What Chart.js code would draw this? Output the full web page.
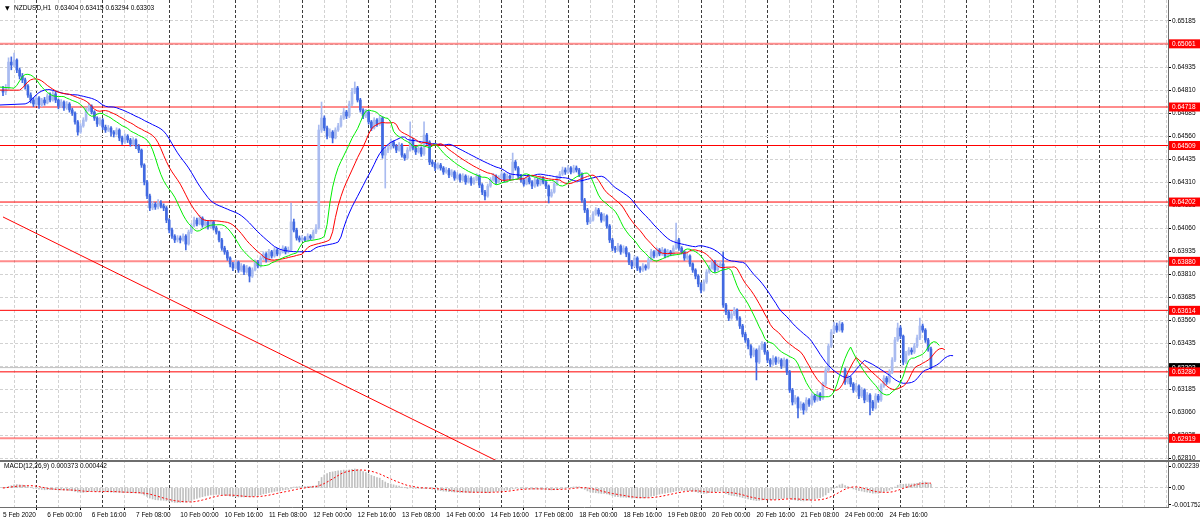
<!DOCTYPE html>
<html>
<head>
<meta charset="utf-8">
<script src="https://cdn.jsdelivr.net/npm/chart.js@4.4.0/dist/chart.umd.min.js"></script>
<style>
  html, body { margin: 0; padding: 0; background: #fff; overflow: hidden; }
  canvas { display: block; }
</style>
</head>
<body>
<canvas id="chart" width="1200" height="524"></canvas>
<script>
// header texts
const symbolTitle = 'NZDUSD,H1  0.63404 0.63415 0.63294 0.63303'
const macdTitle = 'MACD(12,26,9) 0.000373 0.000442'

// time axis labels, one every 16 hourly bars
const timeLabels = ['5 Feb 2020', '6 Feb 00:00', '6 Feb 16:00', '7 Feb 08:00', '10 Feb 00:00', '10 Feb 16:00',
  '11 Feb 08:00', '12 Feb 00:00', '12 Feb 16:00', '13 Feb 08:00', '14 Feb 00:00', '14 Feb 16:00',
  '17 Feb 08:00', '18 Feb 00:00', '18 Feb 16:00', '19 Feb 08:00', '20 Feb 00:00', '20 Feb 16:00',
  '21 Feb 08:00', '24 Feb 00:00', '24 Feb 16:00']

// H1 candles
const opens = [
0.64810,0.64799,0.64821,0.64962,0.64946,0.64973,0.64919,0.64886,0.64865,0.64832,0.64783,0.64756,
0.64734,0.64767,0.64729,0.64756,0.64740,0.64778,0.64756,0.64789,0.64756,0.64723,0.64745,0.64713,
0.64734,0.64702,0.64685,0.64637,0.64582,0.64615,0.64647,0.64702,0.64723,0.64691,0.64658,0.64626,
0.64647,0.64609,0.64593,0.64604,0.64582,0.64571,0.64593,0.64550,0.64528,0.64560,0.64539,0.64517,
0.64539,0.64506,0.64484,0.64403,0.64311,0.64235,0.64170,0.64191,0.64175,0.64197,0.64180,0.64170,
0.64104,0.64050,0.64017,0.63996,0.64007,0.63996,0.64017,0.63974,0.64039,0.64072,0.64104,0.64083,
0.64115,0.64077,0.64094,0.64066,0.64094,0.64061,0.64039,0.63996,0.63952,0.63931,0.63898,0.63866,
0.63844,0.63876,0.63833,0.63855,0.63822,0.63844,0.63800,0.63833,0.63876,0.63855,0.63898,0.63920,
0.63887,0.63931,0.63909,0.63942,0.63920,0.63931,0.63952,0.63931,0.63942,0.64094,0.64050,0.64007,
0.63996,0.64007,0.63996,0.64017,0.64007,0.64039,0.64061,0.64593,0.64658,0.64604,0.64560,0.64582,
0.64550,0.64593,0.64615,0.64658,0.64691,0.64669,0.64734,0.64799,0.64821,0.64756,0.64702,0.64669,
0.64691,0.64637,0.64604,0.64647,0.64626,0.64658,0.64457,0.64484,0.64495,0.64528,0.64506,0.64484,
0.64512,0.64457,0.64441,0.64484,0.64539,0.64495,0.64474,0.64495,0.64463,0.64566,0.64528,0.64419,
0.64409,0.64387,0.64403,0.64387,0.64365,0.64376,0.64349,0.64365,0.64332,0.64349,0.64322,0.64343,
0.64311,0.64332,0.64305,0.64322,0.64343,0.64294,0.64256,0.64235,0.64289,0.64322,0.64343,0.64311,
0.64332,0.64354,0.64322,0.64343,0.64332,0.64419,0.64387,0.64343,0.64322,0.64300,0.64332,0.64311,
0.64289,0.64322,0.64300,0.64332,0.64311,0.64289,0.64235,0.64256,0.64300,0.64332,0.64354,0.64376,
0.64365,0.64387,0.64365,0.64387,0.64376,0.64354,0.64213,0.64159,0.64094,0.64104,0.64137,0.64159,
0.64137,0.64104,0.64126,0.64072,0.63996,0.63952,0.63942,0.63963,0.63931,0.63952,0.63920,0.63876,
0.63855,0.63898,0.63844,0.63833,0.63855,0.63844,0.63887,0.63931,0.63909,0.63942,0.63920,0.63942,
0.63909,0.63931,0.63920,0.63952,0.63996,0.63952,0.63931,0.63898,0.63909,0.63866,0.63833,0.63800,
0.63757,0.63724,0.63768,0.63822,0.63844,0.63876,0.63833,0.63855,0.63866,0.63643,0.63605,0.63572,
0.63594,0.63616,0.63572,0.63529,0.63485,0.63453,0.63420,0.63371,0.63398,0.63333,0.63409,0.63431,
0.63388,0.63344,0.63322,0.63355,0.63333,0.63344,0.63312,0.63344,0.63279,0.63181,0.63116,0.63138,
0.63084,0.63105,0.63073,0.63127,0.63105,0.63149,0.63127,0.63160,0.63138,0.63214,0.63290,0.63420,
0.63496,0.63529,0.63507,0.63540,0.63290,0.63225,0.63246,0.63214,0.63181,0.63203,0.63149,0.63181,
0.63127,0.63154,0.63116,0.63084,0.63149,0.63127,0.63203,0.63246,0.63225,0.63279,0.63344,0.63453,
0.63518,0.63474,0.63333,0.63377,0.63398,0.63388,0.63420,0.63464,0.63529,0.63507,0.63453,0.63404]

const highs = [
0.64830,0.64840,0.64985,0.64990,0.65011,0.64980,0.64930,0.64900,0.64875,0.64840,0.64795,0.64770,
0.64780,0.64775,0.64765,0.64770,0.64790,0.64795,0.64805,0.64800,0.64762,0.64758,0.64752,0.64748,
0.64742,0.64712,0.64692,0.64645,0.64628,0.64660,0.64715,0.64740,0.64730,0.64698,0.64665,0.64660,
0.64655,0.64620,0.64618,0.64612,0.64590,0.64605,0.64600,0.64560,0.64572,0.64568,0.64548,0.64552,
0.64545,0.64515,0.64490,0.64410,0.64320,0.64245,0.64205,0.64200,0.64215,0.64210,0.64192,0.64178,
0.64112,0.64060,0.64025,0.64020,0.64018,0.64030,0.64025,0.64050,0.64085,0.64120,0.64115,0.64130,
0.64122,0.64108,0.64100,0.64105,0.64100,0.64070,0.64045,0.64005,0.63962,0.63940,0.63905,0.63875,
0.63888,0.63882,0.63868,0.63862,0.63858,0.63850,0.63845,0.63888,0.63885,0.63910,0.63932,0.63928,
0.63945,0.63940,0.63955,0.63950,0.63945,0.63965,0.63960,0.63958,0.64197,0.64110,0.64060,0.64018,
0.64020,0.64015,0.64030,0.64025,0.64050,0.64080,0.64620,0.64745,0.64670,0.64615,0.64600,0.64590,
0.64605,0.64630,0.64672,0.64710,0.64700,0.64750,0.64820,0.64854,0.64830,0.64765,0.64710,0.64705,
0.64698,0.64645,0.64660,0.64655,0.64672,0.64665,0.64500,0.64512,0.64545,0.64535,0.64515,0.64525,
0.64520,0.64465,0.64498,0.64637,0.64548,0.64505,0.64508,0.64502,0.64637,0.64575,0.64535,0.64430,
0.64418,0.64415,0.64412,0.64395,0.64390,0.64385,0.64378,0.64372,0.64362,0.64355,0.64356,0.64350,
0.64345,0.64340,0.64335,0.64356,0.64350,0.64302,0.64265,0.64300,0.64335,0.64358,0.64350,0.64345,
0.64368,0.64360,0.64355,0.64350,0.64468,0.64428,0.64395,0.64352,0.64330,0.64345,0.64340,0.64318,
0.64335,0.64330,0.64345,0.64340,0.64320,0.64295,0.64270,0.64312,0.64345,0.64368,0.64392,0.64388,
0.64400,0.64395,0.64402,0.64398,0.64385,0.64360,0.64222,0.64168,0.64118,0.64150,0.64172,0.64168,
0.64145,0.64140,0.64132,0.64080,0.64005,0.63962,0.63978,0.63970,0.63965,0.63960,0.63928,0.63885,
0.63910,0.63905,0.63852,0.63868,0.63862,0.63900,0.63945,0.63938,0.63955,0.63950,0.63956,0.63948,
0.63945,0.63940,0.63965,0.64088,0.64005,0.63960,0.63938,0.63922,0.63915,0.63872,0.63840,0.63808,
0.63765,0.63780,0.63835,0.63858,0.63890,0.63885,0.63868,0.63880,0.63931,0.63652,0.63615,0.63608,
0.63630,0.63622,0.63580,0.63538,0.63495,0.63462,0.63428,0.63410,0.63405,0.63422,0.63445,0.63440,
0.63395,0.63352,0.63368,0.63362,0.63360,0.63352,0.63356,0.63350,0.63288,0.63190,0.63152,0.63145,
0.63118,0.63112,0.63140,0.63135,0.63162,0.63158,0.63175,0.63168,0.63225,0.63302,0.63432,0.63510,
0.63550,0.63545,0.63556,0.63548,0.63300,0.63262,0.63255,0.63222,0.63218,0.63210,0.63195,0.63188,
0.63168,0.63162,0.63125,0.63162,0.63158,0.63215,0.63260,0.63255,0.63292,0.63358,0.63468,0.63545,
0.63530,0.63480,0.63392,0.63412,0.63410,0.63435,0.63480,0.63572,0.63540,0.63515,0.63462,0.63415]

const lows = [
0.64780,0.64785,0.64815,0.64920,0.64935,0.64905,0.64870,0.64850,0.64815,0.64770,0.64740,0.64720,
0.64725,0.64710,0.64720,0.64728,0.64735,0.64745,0.64750,0.64742,0.64708,0.64715,0.64700,0.64705,
0.64690,0.64672,0.64625,0.64565,0.64575,0.64608,0.64640,0.64695,0.64680,0.64645,0.64612,0.64618,
0.64595,0.64580,0.64585,0.64560,0.64555,0.64565,0.64535,0.64515,0.64520,0.64525,0.64505,0.64510,
0.64492,0.64470,0.64390,0.64295,0.64220,0.64155,0.64160,0.64162,0.64165,0.64170,0.64155,0.64090,
0.64035,0.64005,0.63982,0.63985,0.63980,0.63990,0.63942,0.63968,0.64030,0.64065,0.64072,0.64078,
0.64065,0.64070,0.64055,0.64060,0.64050,0.64028,0.63985,0.63940,0.63918,0.63885,0.63850,0.63830,
0.63838,0.63820,0.63825,0.63808,0.63815,0.63768,0.63792,0.63828,0.63845,0.63848,0.63890,0.63875,
0.63880,0.63898,0.63902,0.63910,0.63912,0.63925,0.63920,0.63925,0.63935,0.64040,0.63995,0.63985,
0.63990,0.63988,0.63990,0.63998,0.64000,0.64030,0.64055,0.64580,0.64590,0.64545,0.64552,0.64523,
0.64545,0.64585,0.64608,0.64650,0.64655,0.64660,0.64725,0.64790,0.64745,0.64690,0.64655,0.64660,
0.64625,0.64590,0.64598,0.64612,0.64618,0.64440,0.64278,0.64470,0.64488,0.64495,0.64470,0.64478,
0.64445,0.64428,0.64435,0.64478,0.64485,0.64460,0.64468,0.64450,0.64455,0.64515,0.64405,0.64395,
0.64372,0.64380,0.64375,0.64352,0.64358,0.64335,0.64340,0.64320,0.64325,0.64310,0.64315,0.64298,
0.64305,0.64292,0.64298,0.64316,0.64280,0.64242,0.64213,0.64228,0.64282,0.64315,0.64300,0.64305,
0.64325,0.64310,0.64315,0.64320,0.64325,0.64375,0.64330,0.64310,0.64288,0.64295,0.64300,0.64275,
0.64282,0.64288,0.64292,0.64300,0.64275,0.64197,0.64228,0.64250,0.64292,0.64325,0.64346,0.64352,
0.64358,0.64355,0.64360,0.64365,0.64340,0.64200,0.64145,0.64080,0.64085,0.64098,0.64130,0.64125,
0.64092,0.64098,0.64060,0.63982,0.63938,0.63928,0.63935,0.63918,0.63925,0.63905,0.63862,0.63840,
0.63848,0.63830,0.63820,0.63826,0.63832,0.63838,0.63880,0.63898,0.63902,0.63910,0.63912,0.63898,
0.63902,0.63910,0.63912,0.63945,0.63940,0.63920,0.63885,0.63890,0.63852,0.63820,0.63785,0.63742,
0.63708,0.63718,0.63760,0.63815,0.63838,0.63820,0.63826,0.63845,0.63630,0.63590,0.63558,0.63565,
0.63585,0.63560,0.63515,0.63470,0.63440,0.63405,0.63355,0.63362,0.63236,0.63325,0.63400,0.63375,
0.63330,0.63308,0.63315,0.63320,0.63325,0.63298,0.63305,0.63265,0.63168,0.63100,0.63105,0.63030,
0.63072,0.63050,0.63065,0.63092,0.63098,0.63115,0.63120,0.63125,0.63130,0.63205,0.63282,0.63412,
0.63488,0.63495,0.63500,0.63495,0.63212,0.63215,0.63200,0.63168,0.63172,0.63135,0.63140,0.63112,
0.63118,0.63046,0.63070,0.63078,0.63115,0.63120,0.63195,0.63212,0.63218,0.63270,0.63335,0.63445,
0.63460,0.63318,0.63325,0.63370,0.63375,0.63380,0.63412,0.63455,0.63495,0.63440,0.63392,0.63294]

const closes = [
0.64799,0.64821,0.64962,0.64946,0.64973,0.64919,0.64886,0.64865,0.64832,0.64783,0.64756,0.64734,
0.64767,0.64729,0.64756,0.64740,0.64778,0.64756,0.64789,0.64756,0.64723,0.64745,0.64713,0.64734,
0.64702,0.64685,0.64637,0.64582,0.64615,0.64647,0.64702,0.64723,0.64691,0.64658,0.64626,0.64647,
0.64609,0.64593,0.64604,0.64582,0.64571,0.64593,0.64550,0.64528,0.64560,0.64539,0.64517,0.64539,
0.64506,0.64484,0.64403,0.64311,0.64235,0.64170,0.64191,0.64175,0.64197,0.64180,0.64170,0.64104,
0.64050,0.64017,0.63996,0.64007,0.63996,0.64017,0.63974,0.64039,0.64072,0.64104,0.64083,0.64115,
0.64077,0.64094,0.64066,0.64094,0.64061,0.64039,0.63996,0.63952,0.63931,0.63898,0.63866,0.63844,
0.63876,0.63833,0.63855,0.63822,0.63844,0.63800,0.63833,0.63876,0.63855,0.63898,0.63920,0.63887,
0.63931,0.63909,0.63942,0.63920,0.63931,0.63952,0.63931,0.63942,0.64094,0.64050,0.64007,0.63996,
0.64007,0.63996,0.64017,0.64007,0.64039,0.64061,0.64593,0.64658,0.64604,0.64560,0.64582,0.64550,
0.64593,0.64615,0.64658,0.64691,0.64669,0.64734,0.64799,0.64821,0.64756,0.64702,0.64669,0.64691,
0.64637,0.64604,0.64647,0.64626,0.64658,0.64457,0.64484,0.64495,0.64528,0.64506,0.64484,0.64512,
0.64457,0.64441,0.64484,0.64539,0.64495,0.64474,0.64495,0.64463,0.64566,0.64528,0.64419,0.64409,
0.64387,0.64403,0.64387,0.64365,0.64376,0.64349,0.64365,0.64332,0.64349,0.64322,0.64343,0.64311,
0.64332,0.64305,0.64322,0.64343,0.64294,0.64256,0.64235,0.64289,0.64322,0.64343,0.64311,0.64332,
0.64354,0.64322,0.64343,0.64332,0.64419,0.64387,0.64343,0.64322,0.64300,0.64332,0.64311,0.64289,
0.64322,0.64300,0.64332,0.64311,0.64289,0.64235,0.64256,0.64300,0.64332,0.64354,0.64376,0.64365,
0.64387,0.64365,0.64387,0.64376,0.64354,0.64213,0.64159,0.64094,0.64104,0.64137,0.64159,0.64137,
0.64104,0.64126,0.64072,0.63996,0.63952,0.63942,0.63963,0.63931,0.63952,0.63920,0.63876,0.63855,
0.63898,0.63844,0.63833,0.63855,0.63844,0.63887,0.63931,0.63909,0.63942,0.63920,0.63942,0.63909,
0.63931,0.63920,0.63952,0.63996,0.63952,0.63931,0.63898,0.63909,0.63866,0.63833,0.63800,0.63757,
0.63724,0.63768,0.63822,0.63844,0.63876,0.63833,0.63855,0.63866,0.63643,0.63605,0.63572,0.63594,
0.63616,0.63572,0.63529,0.63485,0.63453,0.63420,0.63371,0.63398,0.63333,0.63409,0.63431,0.63388,
0.63344,0.63322,0.63355,0.63333,0.63344,0.63312,0.63344,0.63279,0.63181,0.63116,0.63138,0.63084,
0.63105,0.63073,0.63127,0.63105,0.63149,0.63127,0.63160,0.63138,0.63214,0.63290,0.63420,0.63496,
0.63529,0.63507,0.63540,0.63507,0.63225,0.63246,0.63214,0.63181,0.63203,0.63149,0.63181,0.63127,
0.63154,0.63116,0.63084,0.63149,0.63127,0.63203,0.63246,0.63225,0.63279,0.63344,0.63453,0.63518,
0.63474,0.63333,0.63377,0.63398,0.63388,0.63420,0.63464,0.63529,0.63507,0.63453,0.63404,0.63303]

// horizontal levels, bid, trend line
const levels = [0.65061, 0.64718, 0.64509, 0.64202, 0.63880, 0.63614, 0.63280, 0.62919]
const bidPrice = 0.63303
const trendBars = [0, 180]
const trendPrices = [0.64121, 0.62784]

// alligator values at the left edge (jaw, teeth, lips)
const alligatorStart = [0.64729, 0.64810, 0.64826]

// axis ticks
const priceTicks = [0.62810, 0.62935, 0.63060, 0.63185, 0.63310, 0.63435, 0.63560, 0.63685, 0.63810, 0.63935,
  0.64060, 0.64185, 0.64310, 0.64435, 0.64560, 0.64685, 0.64810, 0.64935, 0.65060, 0.65185]
const macdTicks = [-0.001752, 0, 0.002239]

// ---------------------------------------------------------------
const LABEL_STEP = 16
const X_MIN = -1.083, X_MAX = 420.58
const BULL = '#a9bbf0', BEAR = '#4169e1'
const softLevels = [0.65061, 0.64718, 0.63880, 0.62919]
const FONT = '"Liberation Sans", Arial, sans-serif'

function smma(values, period, seed) {
  let s = seed
  return values.map(v => (s = (s * (period - 1) + v) / period))
}
function ema(values, period) {
  const k = 2 / (period + 1)
  let e = values[0]
  return values.map((v, i) => (e = i === 0 ? v : v * k + e * (1 - k)))
}

const medians = highs.map((h, i) => (h + lows[i]) / 2)
function alligatorLine(period, shift, seed) {
  const pts = [{x: X_MIN, y: seed}]
  smma(medians, period, seed).forEach((v, i) => pts.push({x: i + shift, y: v}))
  return pts
}

const ema12 = ema(closes, 12), ema26 = ema(closes, 26)
const macdMain = closes.map((c, i) => ema12[i] - ema26[i])
const macdSignal = macdMain.map((v, i) => {
  const from = Math.max(0, i - 8)
  const part = macdMain.slice(from, i + 1)
  return part.reduce((a, b) => a + b, 0) / part.length
})

const isBull = i => closes[i] >= opens[i]
const candleColor = ctx => isBull(ctx.dataIndex) ? BULL : BEAR
const isLabelTick = v => v % LABEL_STEP === 0 && v / LABEL_STEP < timeLabels.length

const hline = (price, color, width, order) => ({
  type: 'line', data: [{x: X_MIN, y: price}, {x: X_MAX, y: price}],
  borderColor: color, borderWidth: width, pointRadius: 0, order: order, yAxisID: 'y'
})

const datasets = [
  ...levels.map(p => softLevels.includes(p)
    ? hline(p, 'rgba(255,0,0,0.45)', 2, 10)
    : hline(p, '#ff0000', 1, 10)),
  hline(bidPrice, '#c0c0c0', 1, 11),
  {
    type: 'line', yAxisID: 'y', order: 9,
    data: trendBars.map((b, i) => ({x: b, y: trendPrices[i]})),
    borderColor: '#ff0000', borderWidth: 1, pointRadius: 0
  },
  {
    type: 'bar', yAxisID: 'm', order: 8, grouped: false,
    data: macdMain.map((v, i) => ({x: i, y: v})),
    backgroundColor: '#c0c0c0', barThickness: 1
  },
  {
    type: 'line', yAxisID: 'm', order: 7,
    data: macdSignal.map((v, i) => ({x: i, y: v})),
    borderColor: '#ff0000', borderWidth: 1, borderDash: [2, 2], pointRadius: 0
  },
  {
    type: 'bar', yAxisID: 'y', order: 4, grouped: false,
    data: closes.map((c, i) => ({x: i, y: [lows[i], highs[i]]})),
    backgroundColor: candleColor, barThickness: 1
  },
  {
    type: 'bar', yAxisID: 'y', order: 3, grouped: false,
    data: closes.map((c, i) => ({x: i, y: [opens[i], c]})),
    backgroundColor: candleColor, barThickness: 2, minBarLength: 1
  },
  {type: 'line', yAxisID: 'y', order: 2, data: alligatorLine(13, 8, alligatorStart[0]),
    borderColor: '#0000ff', borderWidth: 1, pointRadius: 0},
  {type: 'line', yAxisID: 'y', order: 1, data: alligatorLine(8, 5, alligatorStart[1]),
    borderColor: '#ff0000', borderWidth: 1, pointRadius: 0},
  {type: 'line', yAxisID: 'y', order: 0, data: alligatorLine(5, 3, alligatorStart[2]),
    borderColor: '#00ee00', borderWidth: 1, pointRadius: 0}
]

const mt4Decor = {
  id: 'mt4Decor',
  afterDraw(chart) {
    const ctx = chart.ctx
    const y = chart.scales.y, m = chart.scales.m, area = chart.chartArea
    ctx.save()
    // pane separator
    ctx.fillStyle = '#6e6e6e'
    ctx.fillRect(0, y.bottom - 1, chart.width, 2)
    // header texts
    ctx.fillStyle = '#000'
    ctx.font = '6.5px ' + FONT
    ctx.textBaseline = 'middle'
    ctx.textAlign = 'left'
    ctx.fillText(symbolTitle, 14, 8)
    ctx.fillText(macdTitle, 4, m.top + 5)
    ctx.font = '6px "DejaVu Sans", sans-serif'
    ctx.fillText('\u25BC', 5, 8)
    // price boxes on the right axis
    ctx.font = '6.5px ' + FONT
    const box = (price, fill) => {
      const py = y.getPixelForValue(price)
      ctx.fillStyle = fill
      ctx.fillRect(area.right + 1, py - 4.5, 31, 9)
      ctx.fillStyle = '#fff'
      ctx.fillText(price.toFixed(5), area.right + 4, py + 0.5)
    }
    box(bidPrice, '#000')
    levels.forEach(p => box(p, '#ff0000'))
    ctx.restore()
  }
}

new Chart(document.getElementById('chart'), {
  type: 'bar',
  data: {datasets},
  options: {
    responsive: false,
    animation: false,
    devicePixelRatio: 1,
    events: [],
    layout: {padding: 0, autoPadding: false},
    plugins: {legend: {display: false}, tooltip: {enabled: false}},
    scales: {
      x: {
        type: 'linear', min: X_MIN, max: X_MAX, offset: false,
        afterBuildTicks: s => {
          s.ticks = []
          for (let v = 0; v <= X_MAX; v += 8) s.ticks.push({value: v})
        },
        afterFit: s => { s.height = 17; s.paddingLeft = 0; s.paddingRight = 0 },
        ticks: {
          autoSkip: false, maxRotation: 0, align: 'start', padding: 1, color: '#000',
          font: {size: 6.5, family: FONT},
          callback: v => isLabelTick(v) ? timeLabels[v / LABEL_STEP] : ''
        },
        grid: {
          color: c => (c.tick && c.tick.value % 24 === 16) ? '#3c3c3c' : '#d2d2d2',
          tickLength: 3,
          tickColor: c => (c.tick && isLabelTick(c.tick.value)) ? '#000' : 'rgba(0,0,0,0)'
        },
        border: {color: '#6e6e6e', dash: [3, 2]}
      },
      y: {
        type: 'linear', position: 'right', stack: 'panes', stackWeight: 461,
        min: 0.62796, max: 0.65299,
        afterBuildTicks: s => { s.ticks = priceTicks.map(v => ({value: v})) },
        afterFit: s => { s.width = 32; s.paddingTop = 0; s.paddingBottom = 0 },
        ticks: {
          autoSkip: false, padding: 1, color: '#000',
          font: {size: 6.5, family: FONT},
          callback: v => v.toFixed(5)
        },
        grid: {color: '#d2d2d2', tickLength: 3, tickColor: '#000'},
        border: {color: '#6e6e6e', dash: [3, 2]}
      },
      m: {
        type: 'linear', position: 'right', stack: 'panes', stackWeight: 46,
        min: -0.00196, max: 0.00276,
        afterBuildTicks: s => { s.ticks = macdTicks.map(v => ({value: v})) },
        afterFit: s => { s.width = 32; s.paddingTop = 0; s.paddingBottom = 0 },
        ticks: {
          autoSkip: false, padding: 1, color: '#000',
          font: {size: 6.5, family: FONT},
          callback: v => v === 0 ? '0.00' : v.toFixed(6)
        },
        grid: {
          color: c => (c.tick && c.tick.value === 0) ? '#d2d2d2' : 'rgba(0,0,0,0)',
          tickLength: 3, tickColor: '#000'
        },
        border: {color: '#6e6e6e', dash: [3, 2]}
      }
    }
  },
  plugins: [mt4Decor]
})
</script>
</body>
</html>
